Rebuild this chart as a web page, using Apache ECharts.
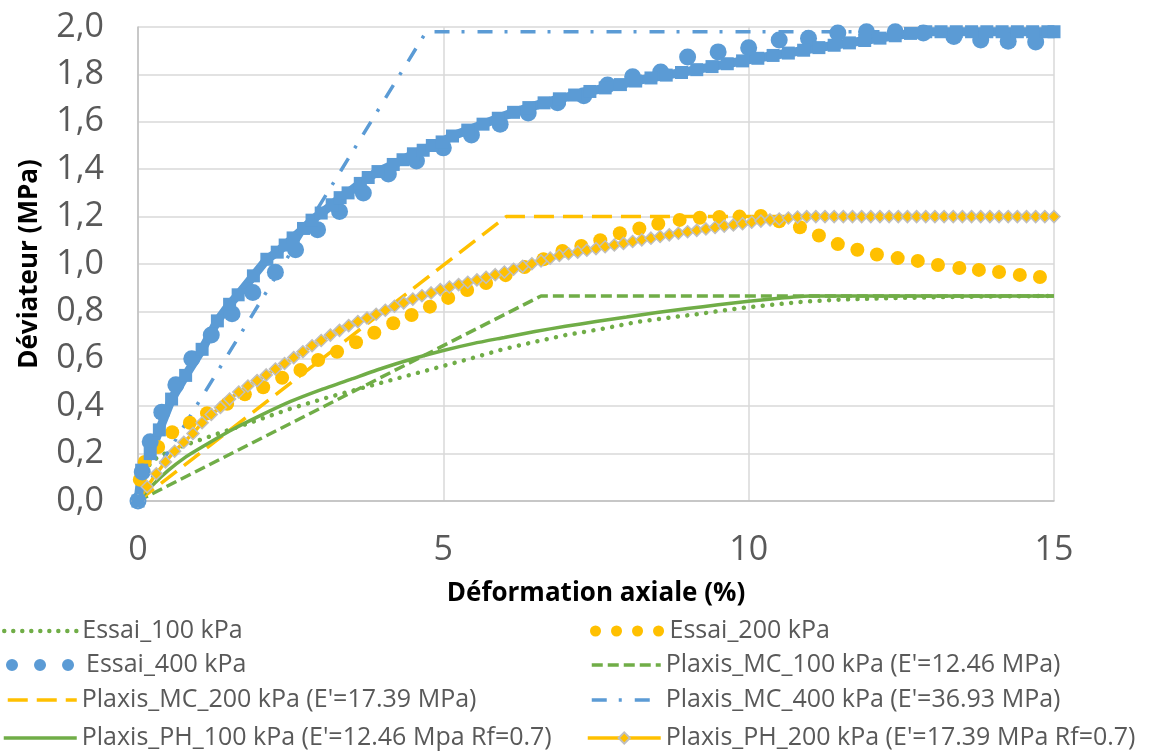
<!DOCTYPE html>
<html><head><meta charset="utf-8">
<script src="https://cdn.jsdelivr.net/npm/echarts@6/dist/echarts.min.js"></script>
<style>html,body{margin:0;padding:0;background:#fff}#c{width:1155px;height:753px}</style>
</head><body><div id="c"></div>
<script>
// ---- data (x = déformation axiale %, y = déviateur MPa) ----
const yTickLabels = ['0,0','0,2','0,4','0,6','0,8','1,0','1,2','1,4','1,6','1,8','2,0'];
const xTickLabels = ['0','5','10','15'];

const essai100 = [[0,0],[0.1,0.1],[0.2,0.16],[0.33,0.186],[0.6,0.22],[0.93,0.25],[1.26,0.28],[1.72,0.32],[2.5,0.39],[3.15,0.44],[4.0,0.5],[4.5,0.535],[5.0,0.57],[5.5,0.605],[5.93,0.637],[6.5,0.672],[7.0,0.7],[7.57,0.725],[8.2,0.757],[9.2,0.79],[9.9,0.815],[10.85,0.84],[11.5,0.85],[12.5,0.857],[13.5,0.862],[15,0.865]];

const essai200 = [[0,0],[0.03,0.09],[0.11,0.165],[0.33,0.228],[0.56,0.29],[0.85,0.33],[1.13,0.37],[1.46,0.41],[1.75,0.45],[2.05,0.48],[2.36,0.52],[2.66,0.553],[2.95,0.595],[3.26,0.63],[3.57,0.67],[3.87,0.71],[4.18,0.75],[4.48,0.785],[4.78,0.82],[5.08,0.857],[5.39,0.89],[5.7,0.92],[6.02,0.953],[6.33,0.987],[6.64,1.02],[6.95,1.055],[7.26,1.076],[7.57,1.1],[7.89,1.13],[8.21,1.15],[8.52,1.17],[8.87,1.186],[9.2,1.195],[9.52,1.198],[9.85,1.2],[10.2,1.203],[10.5,1.18],[10.84,1.155],[11.15,1.12],[11.46,1.084],[11.78,1.06],[12.1,1.04],[12.44,1.025],[12.77,1.013],[13.1,0.996],[13.45,0.983],[13.77,0.975],[14.1,0.966],[14.44,0.954],[14.77,0.945]];

const essai400 = [[0,0],[0.07,0.122],[0.2,0.25],[0.39,0.375],[0.62,0.49],[0.88,0.6],[1.2,0.7],[1.54,0.79],[1.88,0.88],[2.25,0.965],[2.58,1.06],[2.94,1.145],[3.3,1.222],[3.69,1.3],[4.1,1.38],[4.56,1.435],[5.0,1.49],[5.46,1.544],[5.93,1.59],[6.39,1.637],[6.87,1.68],[7.3,1.71],[7.69,1.755],[8.1,1.79],[8.56,1.81],[9.0,1.873],[9.5,1.895],[10.0,1.912],[10.5,1.945],[10.98,1.953],[11.46,1.975],[11.93,1.98],[12.4,1.98],[12.86,1.975],[13.36,1.96],[13.8,1.945],[14.25,1.94],[14.7,1.937]];

const mc100 = [[0,0],[6.6,0.865],[15,0.865]];
const mc200 = [[0,0],[6.03,1.2],[15,1.2]];
const mc400 = [[0,0],[4.72,1.98],[15,1.98]];

const ph100 = [[0,0],[0.25,0.07],[0.5,0.13],[0.75,0.18],[1,0.22],[1.5,0.295],[2,0.36],[2.5,0.42],[3,0.47],[3.5,0.515],[4,0.56],[4.5,0.6],[5,0.635],[5.5,0.665],[6,0.69],[6.5,0.715],[7,0.737],[7.5,0.757],[8,0.776],[8.5,0.795],[9,0.812],[9.5,0.828],[10,0.843],[10.5,0.855],[11,0.865],[15,0.865]];

const ph200 = [[0,0],[0.15,0.06],[0.3,0.115],[0.45,0.165],[0.6,0.21],[0.75,0.248],[0.9,0.285],[1.05,0.33],[1.2,0.365],[1.35,0.395],[1.5,0.43],[1.65,0.46],[1.8,0.485],[1.95,0.508],[2.1,0.532],[2.25,0.557],[2.4,0.58],[2.55,0.605],[2.7,0.63],[2.85,0.655],[3.0,0.677],[3.15,0.7],[3.3,0.72],[3.45,0.74],[3.6,0.757],[3.75,0.772],[3.9,0.788],[4.05,0.805],[4.2,0.822],[4.35,0.836],[4.5,0.852],[4.65,0.866],[4.8,0.878],[4.95,0.892],[5.1,0.903],[5.25,0.913],[5.4,0.923],[5.55,0.933],[5.7,0.944],[5.85,0.955],[6.0,0.966],[6.15,0.978],[6.3,0.99],[6.45,1.001],[6.6,1.013],[6.75,1.025],[6.9,1.036],[7.05,1.043],[7.2,1.05],[7.35,1.058],[7.5,1.065],[7.65,1.073],[7.8,1.08],[7.95,1.087],[8.1,1.095],[8.25,1.102],[8.4,1.109],[8.55,1.116],[8.7,1.123],[8.85,1.13],[9.0,1.136],[9.15,1.142],[9.3,1.148],[9.45,1.154],[9.6,1.16],[9.75,1.165],[9.9,1.17],[10.05,1.176],[10.2,1.181],[10.35,1.186],[10.5,1.19],[10.65,1.194],[10.8,1.198],[10.95,1.2],[11.1,1.2],[11.25,1.2],[11.4,1.2],[11.55,1.2],[11.7,1.2],[11.85,1.2],[12.0,1.2],[12.15,1.2],[12.3,1.2],[12.45,1.2],[12.6,1.2],[12.75,1.2],[12.9,1.2],[13.05,1.2],[13.2,1.2],[13.35,1.2],[13.5,1.2],[13.65,1.2],[13.8,1.2],[13.95,1.2],[14.1,1.2],[14.25,1.2],[14.4,1.2],[14.55,1.2],[14.7,1.2],[14.85,1.2],[15.0,1.2]];

const ph400 = [[0,0],[0.06,0.13],[0.2,0.2],[0.35,0.3],[0.55,0.43],[0.78,0.53],[1.05,0.64],[1.3,0.76],[1.5,0.83],[1.64,0.87],[1.89,0.95],[2.11,1.02],[2.28,1.05],[2.41,1.08],[2.54,1.11],[2.71,1.15],[2.85,1.185],[3.0,1.215],[3.18,1.25],[3.31,1.28],[3.44,1.3],[3.64,1.34],[3.77,1.365],[3.93,1.39],[4.18,1.42],[4.34,1.44],[4.51,1.465],[4.67,1.48],[4.82,1.5],[4.98,1.515],[5.15,1.54],[5.4,1.565],[5.65,1.59],[5.9,1.615],[6.15,1.64],[6.4,1.66],[6.65,1.68],[6.9,1.697],[7.15,1.713],[7.4,1.728],[7.65,1.743],[7.9,1.757],[8.15,1.772],[8.4,1.785],[8.65,1.797],[8.9,1.808],[9.15,1.82],[9.4,1.833],[9.65,1.845],[9.9,1.857],[10.15,1.868],[10.4,1.88],[10.65,1.89],[10.9,1.902],[11.15,1.913],[11.4,1.923],[11.65,1.933],[11.9,1.943],[12.15,1.953],[12.4,1.963],[12.65,1.973],[12.9,1.98],[13.15,1.98],[13.4,1.98],[13.65,1.98],[13.9,1.98],[14.15,1.98],[14.4,1.98],[14.65,1.98],[14.9,1.98],[15,1.98]];

const names = {
  e100: 'Essai_100 kPa', e200: 'Essai_200 kPa', e400: 'Essai_400 kPa',
  mc100: "Plaxis_MC_100 kPa (E'=12.46 MPa)", mc200: "Plaxis_MC_200 kPa (E'=17.39 MPa)",
  mc400: "Plaxis_MC_400 kPa (E'=36.93 MPa)", ph100: "Plaxis_PH_100 kPa (E'=12.46 Mpa Rf=0.7)",
  ph200: "Plaxis_PH_200 kPa (E'=17.39 MPa Rf=0.7)", ph400: 'Plaxis_PH_400 kPa'
};

const GREEN = '#70AD47', YELLOW = '#FFC000', BLUE = '#5B9BD5';
const FONT = '"Open Sans", Lato, sans-serif';
const chart = echarts.init(document.getElementById('c'));

const legendText = {fontSize: 25, color: '#595959', fontFamily: FONT, lineHeight: 28};
const hideSym = {opacity: 0};
const rowCenters = [631, 665, 700, 738];
const colLeft = [2, 586];

function leg(col, row, item) {
  return {orient: 'vertical', left: colLeft[col], top: rowCenters[row] - 14, padding: 0,
    itemWidth: 73, itemHeight: 14, textStyle: legendText, lineStyle: {width: 'inherit'},
    data: [item]};
}

chart.setOption({
  animation: false,
  grid: {left: 138, right: 101, top: 27, bottom: 252},
  xAxis: {
    type: 'value', min: 0, max: 15, interval: 5,
    name: 'Déformation axiale (%)', nameLocation: 'middle', nameGap: 80,
    nameTextStyle: {fontSize: 26, fontWeight: 'bold', color: '#000', fontFamily: FONT},
    axisLine: {show: true, lineStyle: {color: '#BFBFBF', width: 1.5}},
    axisTick: {show: false},
    axisLabel: {fontSize: 34, color: '#595959', fontFamily: FONT, margin: 32,
      formatter: v => xTickLabels[Math.round(v / 5)]},
    splitLine: {show: true, lineStyle: {color: '#D9D9D9', width: 1.5}}
  },
  yAxis: {
    type: 'value', min: 0, max: 2, interval: 0.2,
    name: 'Déviateur (MPa)', nameLocation: 'middle', nameGap: 95,
    nameTextStyle: {fontSize: 26, fontWeight: 'bold', color: '#000', fontFamily: FONT},
    axisLine: {show: true, lineStyle: {color: '#BFBFBF', width: 1.5}},
    axisTick: {show: false},
    axisLabel: {fontSize: 34, color: '#595959', fontFamily: FONT, margin: 34,
      formatter: v => yTickLabels[Math.round(v / 0.2)]},
    splitLine: {show: true, lineStyle: {color: '#D9D9D9', width: 1.5}}
  },
  legend: [
    leg(0, 0, {name: names.e100, itemStyle: hideSym, lineStyle: {width: 4.5, type: [0.01, 9], cap: 'round', opacity: 1}}),
    leg(0, 1, {name: names.e400, itemStyle: hideSym, lineStyle: {width: 12, type: [0.01, 28], cap: 'round', opacity: 1, dashOffset: -4}}),
    leg(0, 2, {name: names.mc200, itemStyle: hideSym}),
    leg(0, 3, {name: names.ph100, itemStyle: hideSym}),
    leg(1, 0, {name: names.e200, itemStyle: hideSym, lineStyle: {width: 11, type: [0.01, 21], cap: 'round', opacity: 1}}),
    leg(1, 1, {name: names.mc100, itemStyle: hideSym}),
    leg(1, 2, {name: names.mc400, itemStyle: hideSym}),
    leg(1, 3, {name: names.ph200})
  ],
  series: [
    {name: names.e100, type: 'line', data: essai100, symbol: 'none', clip: false,
     lineStyle: {color: GREEN, width: 4.5, type: [0.01, 9.5], cap: 'round'}, itemStyle: {color: GREEN}},
    {name: names.e200, type: 'line', data: essai200, symbol: 'circle', symbolSize: 14, clip: false,
     lineStyle: {color: YELLOW, width: 0, opacity: 0}, itemStyle: {color: YELLOW}},
    {name: names.e400, type: 'line', data: essai400, symbol: 'circle', symbolSize: 17, clip: false,
     lineStyle: {color: BLUE, width: 0, opacity: 0}, itemStyle: {color: BLUE}},
    {name: names.mc100, type: 'line', data: mc100, symbol: 'none',
     lineStyle: {color: GREEN, width: 3.5, type: [11, 5]}, itemStyle: {color: GREEN}},
    {name: names.mc200, type: 'line', data: mc200, symbol: 'none',
     lineStyle: {color: YELLOW, width: 3.5, type: [20, 9]}, itemStyle: {color: YELLOW}},
    {name: names.mc400, type: 'line', data: mc400, symbol: 'none',
     lineStyle: {color: BLUE, width: 3.5, type: [15, 12, 3, 13]}, itemStyle: {color: BLUE}},
    {name: names.ph100, type: 'line', data: ph100, symbol: 'none', smooth: 0.2,
     lineStyle: {color: GREEN, width: 3.5}, itemStyle: {color: GREEN}},
    {name: names.ph200, type: 'line', data: ph200, symbol: 'diamond', symbolSize: 12, clip: false,
     lineStyle: {color: YELLOW, width: 3.5},
     itemStyle: {color: YELLOW, borderColor: '#BFBFBF', borderWidth: 1.5}},
    {name: names.ph400, type: 'line', data: ph400, symbol: 'rect', symbolSize: 13, clip: false,
     lineStyle: {color: BLUE, width: 9}, itemStyle: {color: BLUE}}
  ]
});
</script>
</body></html>
